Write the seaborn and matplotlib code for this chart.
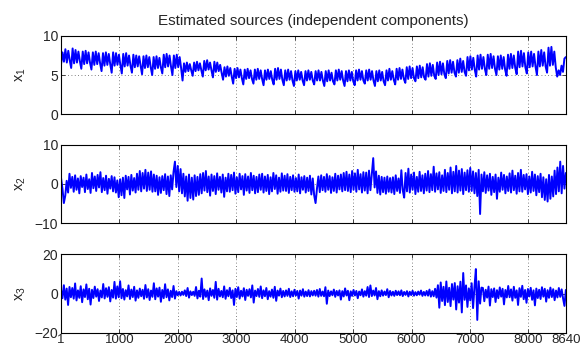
import numpy as np
import matplotlib
matplotlib.use("Agg")
import matplotlib.pyplot as plt
import seaborn as sns

# Estimated independent components
# (sample index runs from 1 to 8640)
x1_vals = [
    6.4, 7.9, 6.7, 8.3, 6.6, 8.1, 6.9,
    5.9, 8.4, 6.5, 8.2, 6.6, 8.0, 6.8,
    5.8, 8.0, 6.4, 8.1, 6.5, 7.9, 6.6,
    5.7, 7.9, 6.3, 8.0, 6.4, 7.8, 6.5,
    5.5, 7.8, 6.2, 7.9, 6.3, 7.7, 6.4,
    5.3, 7.9, 6.2, 7.8, 6.3, 7.6, 6.3,
    5.2, 7.7, 6.1, 7.8, 6.2, 7.5, 6.2,
    5.3, 7.6, 6.0, 7.5, 6.1, 7.4, 6.2,
    5.1, 7.4, 5.9, 7.5, 6.0, 7.3, 6.0,
    5.0, 7.3, 5.8, 7.4, 5.9, 7.2, 6.0,
    5.2, 7.6, 6.0, 7.7, 6.1, 7.5, 6.1,
    5.0, 7.5, 5.9, 7.6, 6.0, 7.3, 5.9,
    4.3, 6.5, 5.4, 6.6, 5.5, 6.4, 5.6,
    4.9, 6.6, 5.5, 6.7, 5.6, 6.5, 5.6,
    4.8, 6.8, 5.6, 6.9, 5.7, 6.6, 5.6,
    4.7, 6.7, 5.4, 6.6, 5.5, 6.3, 5.3,
    4.4, 6.0, 4.8, 6.1, 4.9, 5.9, 4.8,
    3.9, 5.8, 4.6, 5.9, 4.7, 5.7, 4.6,
    3.8, 5.7, 4.5, 5.8, 4.6, 5.6, 4.5,
    3.9, 5.7, 4.4, 5.8, 4.5, 5.6, 4.5,
    3.7, 5.6, 4.4, 5.7, 4.5, 5.5, 4.4,
    3.8, 5.8, 4.4, 5.9, 4.5, 5.7, 4.4,
    3.7, 5.6, 4.3, 5.7, 4.4, 5.5, 4.3,
    3.6, 5.5, 4.3, 5.6, 4.4, 5.4, 4.3,
    3.7, 5.5, 4.3, 5.6, 4.4, 5.4, 4.3,
    3.8, 5.5, 4.3, 5.6, 4.3, 5.4, 4.3,
    3.6, 5.5, 4.2, 5.6, 4.3, 5.3, 4.2,
    3.8, 5.6, 4.3, 5.7, 4.4, 5.5, 4.3,
    3.6, 5.5, 4.2, 5.6, 4.3, 5.4, 4.2,
    3.7, 5.6, 4.3, 5.7, 4.4, 5.5, 4.3,
    3.9, 5.6, 4.3, 5.7, 4.4, 5.5, 4.3,
    3.6, 5.5, 4.2, 5.6, 4.3, 5.4, 4.2,
    3.7, 5.6, 4.3, 5.8, 4.4, 5.5, 4.4,
    3.8, 5.8, 4.4, 5.9, 4.5, 5.7, 4.5,
    4.0, 6.0, 4.5, 6.1, 4.6, 5.9, 4.6,
    4.2, 6.1, 4.6, 6.2, 4.7, 6.0, 4.7,
    4.4, 6.4, 4.8, 6.5, 4.9, 6.3, 4.9,
    4.5, 6.6, 5.0, 6.7, 5.1, 6.5, 5.1,
    4.6, 6.8, 5.2, 6.9, 5.3, 6.7, 5.3,
    4.8, 6.9, 5.3, 7.1, 5.4, 6.8, 5.4,
    4.9, 7.3, 5.6, 7.4, 5.7, 7.2, 5.7,
    4.8, 7.5, 5.7, 7.6, 5.8, 7.3, 5.8,
    5.0, 7.6, 5.8, 7.7, 5.9, 7.4, 5.8,
    5.0, 7.4, 5.7, 7.5, 5.8, 7.3, 5.7,
    4.9, 7.6, 5.8, 7.7, 5.9, 7.5, 5.9,
    5.1, 8.0, 6.0, 8.1, 6.1, 7.8, 6.0,
    5.2, 7.9, 6.0, 8.0, 6.1, 7.7, 6.1,
    5.0, 8.0, 6.1, 8.2, 6.2, 7.9, 6.1,
    5.3, 8.5, 6.2, 8.6, 6.3, 8.0, 6.0,
    4.8, 5.6, 5.0, 6.2, 5.4, 7.1, 7.3,
]

x2_vals = [
    1.5, -1.2, -4.9, -3.0, 0.8, -2.2, 2.6, -1.0, 1.8, -2.0, 2.2, -1.5, 1.4, -2.4, 2.0, -0.8, 1.6, -2.1, 2.4, -1.3,
    1.2, -2.3, 2.8, -1.1, 1.9, -1.8, 2.3, -0.9, 3.0, -2.1, 1.5, -1.6, 2.1, -2.5, 1.3, -1.2, 2.0, -1.9, 1.7, -2.2,
    0.9, -3.4, 1.2, -2.9, 1.6, -3.6, 2.1, -1.4, 1.8, -2.7, 2.3, -1.7, 1.5, -2.2, 2.6, -1.5, 3.3, -1.9, 2.8, -1.2,
    3.6, -1.8, 2.9, -1.5, 3.2, -2.0, 2.4, -1.9, 2.1, -2.8, 1.7, -2.3, 2.0, -1.6, 2.5, -2.6, 1.9, -3.1, 2.2, -1.4,
    3.1, 5.7, -0.8, 4.6, -1.9, 3.8, -2.4, 2.6, -3.2, 1.9, -4.3, 2.4, -3.6, 1.6, -4.0, 2.2, -3.1, 1.8, -2.8, 2.5,
    -2.4, 2.8, -1.7, 3.3, -2.1, 1.9, -3.0, 2.4, -1.8, 2.0, -2.6, 2.7, -1.5, 1.8, -2.2, 2.4, -3.3, 1.6, -1.9, 2.6,
    -2.0, 2.3, -1.6, 2.9, -2.5, 1.7, -2.1, 2.6, -1.4, 2.0, -2.8, 2.5, -1.7, 1.9, -2.3, 2.8, -1.6, 2.1, -2.4, 1.8,
    -2.1, 2.4, -1.5, 2.6, -2.2, 1.9, -1.8, 2.3, -2.6, 1.7, -1.9, 2.8, -1.3, 2.2, -2.5, 1.6, -2.0, 2.7, -1.7, 2.1,
    -1.8, 2.5, -2.3, 1.8, -1.6, 2.2, -2.0, 1.5, -1.9, 2.4, -2.4, 1.7, -1.5, 2.0, -2.2, 1.6, -1.8, 2.1, -2.7, 1.4,
    -2.9, -4.9, -1.2, 1.9, -2.1, 2.2, -1.6, 1.8, -2.0, 2.5, -1.5, 2.0, -2.3, 1.7, -1.8, 2.6, -2.2, 2.1, -1.4, 2.4,
    -1.9, 2.8, -1.6, 3.1, -1.8, 2.4, -2.1, 3.3, -1.5, 2.7, -2.0, 3.6, -1.4, 2.5, -2.2, 3.0, -1.7, 2.9, -2.4, 3.4,
    -1.6, 2.6, 6.6, -0.9, 3.2, -2.3, 2.1, -2.7, 1.8, -2.1, 1.6, -2.5, 1.9, -2.0, 1.5, -2.2, 1.7, -2.6, 2.2, -1.8,
    1.4, -2.3, 3.5, -1.6, -3.5, 2.8, -1.9, 3.9, -2.2, 2.4, -1.5, 2.9, -2.6, 1.8, -2.0, 3.1, -1.8, 2.2, -2.4, 2.6,
    -1.7, 3.3, -2.1, 2.5, -1.6, 4.4, -2.0, 2.7, -1.4, 3.0, -2.3, 2.2, -1.8, 3.6, -2.1, 2.8, -1.5, 4.2, -2.4, 3.1,
    -1.9, 4.6, -2.2, 3.4, -1.7, 3.8, -2.6, 2.9, -1.6, 3.5, -2.0, 4.1, -1.8, 3.2, -2.4, 2.8, -3.1, 3.6, -7.7, 2.4,
    -1.9, 3.0, -2.3, 2.2, -1.7, 2.6, -2.8, 1.8, -2.1, 2.4, -3.8, 1.6, -2.0, 2.9, -1.5, 2.3, -2.4, 1.9, -1.8, 2.7,
    -2.2, 3.4, -1.6, 2.1, -2.5, 2.8, -1.9, 3.6, -2.0, 2.3, -1.4, 2.5, -2.6, 1.9, -2.2, 3.1, -1.8, 2.4, -2.9, 2.0,
    -2.1, 2.6, -3.4, 1.7, -4.1, 1.2, -4.5, 2.3, -3.8, 1.9, -3.2, 3.4, -2.6, 4.2, -1.9, 5.7, -2.4, 4.6, -1.2, 2.8,
]

x3_vals = [
    1.8, -2.4, 4.2, -3.1, 2.5, -5.8, 3.3, -1.9, 2.8, -2.6, 5.1, -3.5, 1.6, -2.2, 3.7, -4.4, 2.1, -1.8, 4.6, -2.9,
    2.4, -5.6, 1.9, -2.3, 3.5, -1.6, 2.2, -3.8, 1.5, -2.0, 4.8, -2.5, 2.7, -1.7, 3.2, -4.0, 1.8, -2.1, 5.9, -2.6,
    3.6, -1.9, 6.2, -2.4, 2.3, -3.1, 1.7, -1.5, 4.1, -2.8, 2.0, -1.8, 3.4, -3.6, 1.6, -2.2, 2.5, -1.4, 1.9, -2.7,
    4.3, -2.0, 2.2, -3.3, 1.5, -1.7, 5.2, -2.9, 2.6, -1.6, 3.0, -4.2, 1.8, -2.4, 4.7, -1.9, 2.1, -3.5, 1.4, -1.8,
    3.8, -2.6, 1.2, -0.9, 0.8, -1.0, 0.9, -0.7, 1.6, -1.3, 2.8, -2.1, 1.1, -0.8, 0.9, -1.2, 3.3, -2.5, 1.4, -1.6,
    7.6, -2.8, 2.1, -1.7, 1.5, -3.4, 2.6, -1.2, 1.8, -2.2, 5.9, -3.1, 2.4, -1.5, 1.3, -1.9, 3.6, -2.7, 1.7, -1.4,
    2.9, -2.3, 1.6, -5.8, 2.4, -1.8, 3.2, -2.6, 1.4, -1.5, 2.7, -3.3, 1.9, -1.2, 2.2, -2.0, 4.1, -4.6, 1.5, -1.3,
    2.3, -1.7, 3.6, -2.4, 1.6, -1.4, 2.8, -2.9, 1.2, -1.6, 2.0, -2.2, 3.4, -3.7, 1.5, -1.1, 2.5, -1.9, 1.3, -1.5,
    1.6, -1.2, 2.4, -1.8, 1.1, -1.4, 1.9, -1.0, 1.3, -2.6, 1.5, -1.1, 2.2, -1.6, 1.0, -1.3, 1.7, -1.5, 1.2, -1.0,
    1.4, -1.1, 1.8, -1.6, 2.3, -1.2, 1.0, -1.4, 3.2, -5.2, 1.5, -1.3, 1.1, -0.9, 2.0, -1.7, 1.3, -1.0, 1.6, -3.1,
    1.2, -1.5, 2.6, -1.0, 1.4, -3.4, 1.1, -1.2, 1.8, -1.0, 1.3, -2.4, 1.0, -0.9, 2.1, -1.6, 1.2, -1.1, 3.3, -1.8,
    4.1, -1.3, 1.5, -1.0, 2.8, -2.9, 1.2, -1.4, 1.6, -1.1, 1.0, -0.8, 2.2, -1.9, 1.3, -1.0, 0.9, -1.2, 1.4, -0.8,
    1.1, -0.9, 1.6, -1.3, 0.8, -0.7, 1.2, -1.5, 0.9, -0.8, 1.4, -1.1, 0.7, -0.9, 1.0, -0.6, 1.5, -1.2, 0.8, -1.0,
    1.3, -1.1, 2.0, -1.6, 1.2, -1.4, 2.4, -2.1, 4.2, -7.2, 5.6, -3.8, 3.4, -5.9, 6.1, -4.3, 2.9, -6.4, 4.8, -3.1,
    5.3, -8.1, 3.7, -4.6, 6.0, -9.6, 10.4, -3.2, 4.1, -6.8, 2.6, -3.5, 5.2, -7.4, 3.3, 12.4, -13.4, 6.2, -5.1, 3.0,
    2.8, -3.9, 1.9, -2.1, 3.5, -6.1, 2.2, -1.8, 2.6, -4.3, 1.7, -2.4, 3.1, -1.6, 2.4, -5.5, 1.8, -2.0, 3.8, -1.9,
    2.1, -3.6, 3.4, -2.2, 1.6, -5.8, 2.7, -1.7, 3.9, -2.9, 1.8, -4.7, 2.3, -1.5, 2.9, -3.2, 1.6, -6.0, 2.5, -2.3,
    1.9, -2.8, 3.2, -1.6, 2.4, -4.1, 1.7, -2.2, 3.0, -1.8, 2.2, -3.4, 1.5, -2.0, 2.8, -1.7, 2.1, -2.5, -6.3, 1.8,
]

series = [x1_vals, x2_vals, x3_vals]
ylabels = [r"x$_1$", r"x$_2$", r"x$_3$"]
ylims = [(0, 10), (-10, 10), (-20, 20)]
yticks = [[0, 5, 10], [-10, 0, 10], [-20, 0, 20]]
xticks = [1, 1000, 2000, 3000, 4000, 5000, 6000, 7000, 8000, 8640]
n_samples = 8640

sns.set_style("ticks", rc={
    "xtick.direction": "in", "ytick.direction": "in",
    "xtick.top": True, "ytick.right": True,
    "axes.edgecolor": "black", "axes.linewidth": 0.8,
})
plt.rcParams["font.family"] = ["Liberation Sans", "DejaVu Sans"]
plt.rcParams["mathtext.fontset"] = "custom"
plt.rcParams["mathtext.rm"] = "Liberation Sans"
plt.rcParams["mathtext.it"] = "Liberation Sans"

fig = plt.figure(figsize=(5.87, 3.49), dpi=100)
# axes rectangles in figure fractions (left, bottom, width, height)
rects = [[0.104, 0.673, 0.860, 0.224],
         [0.104, 0.361, 0.860, 0.224],
         [0.104, 0.046, 0.860, 0.226]]

for i, vals in enumerate(series):
    ax = fig.add_axes(rects[i])
    t = np.linspace(1, n_samples, len(vals))
    sns.lineplot(x=t, y=vals, ax=ax, color="blue", linewidth=1.4, estimator=None)
    ax.set_xlim(1, n_samples)
    ax.set_ylim(*ylims[i])
    ax.set_yticks(yticks[i])
    ax.set_xticks(xticks)
    ax.grid(True, linestyle=(0, (1, 3)), color="0.35", linewidth=0.6)
    ax.set_axisbelow(True)
    ax.tick_params(length=3, width=0.6, labelsize=10, pad=2,
                   top=True, right=True)
    ax.tick_params(axis="x", labelsize=9.5, pad=1)
    if i < 2:
        ax.set_xticklabels([])
    else:
        ax.set_xticklabels([str(v) for v in xticks])
    ax.set_ylabel(ylabels[i], fontsize=10.5)
    ax.yaxis.set_label_coords(-0.065, 0.5)
    for s in ax.spines.values():
        s.set_visible(True)
    if i == 0:
        ax.set_title("Estimated sources (independent components)", fontsize=11, pad=8)

fig.savefig("out.png", dpi=100)
